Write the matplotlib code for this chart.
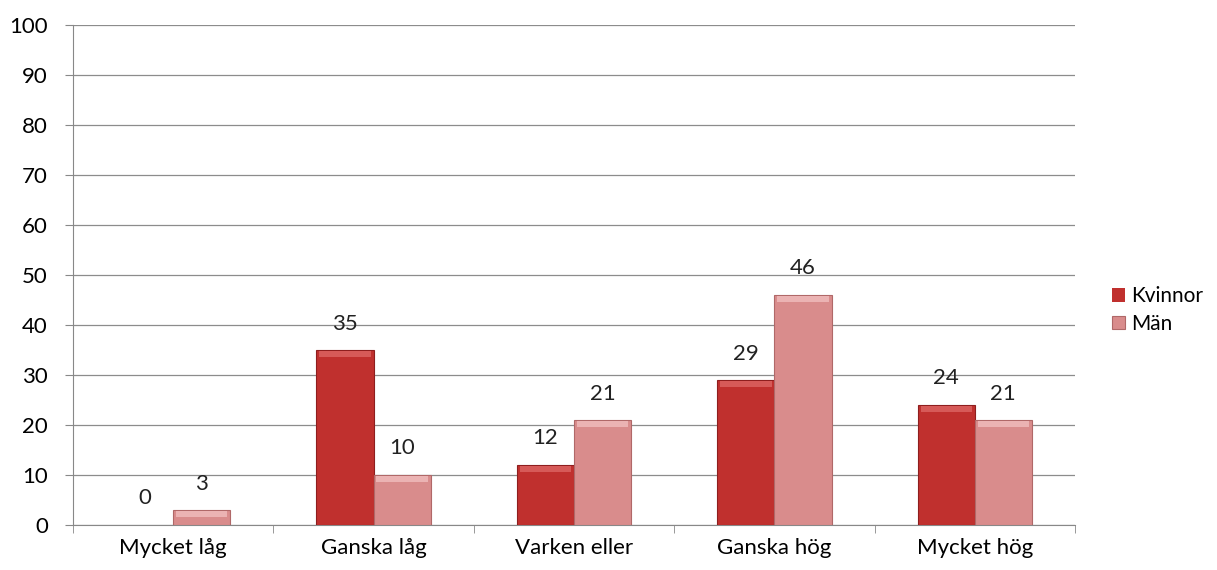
import numpy as np
import matplotlib.pyplot as plt

categories = ["Mycket låg", "Ganska låg", "Varken eller", "Ganska hög", "Mycket hög"]
kvinnor = [0, 35, 12, 29, 24]
man = [3, 10, 21, 46, 21]
series_names = ["Kvinnor", "Män"]

plt.rcParams["font.family"] = ["Lato", "DejaVu Sans"]
fs = 16

fig = plt.figure(figsize=(12.17, 5.70), dpi=100)
ax = fig.add_axes([73 / 1217, 45 / 570, 1002 / 1217, 500 / 570])

x = np.arange(len(categories))
w = 0.285
colors = ["#C0302E", "#D98C8C"]
edges = ["#8E1E1E", "#B06868"]
tops = ["#D65A58", "#EBB3B3"]

for i, (vals, name) in enumerate(zip([kvinnor, man], series_names)):
    xs = x + (i - 0.5) * w
    lw = [0.8 if v > 0 else 0 for v in vals]
    ax.bar(xs, vals, width=w, color=colors[i], edgecolor=edges[i],
           linewidth=lw, label=name, zorder=3)
    # bevel highlight along the top of each bar
    for xi, v in zip(xs, vals):
        if v > 0:
            h = min(1.2, v * 0.5)
            ax.bar(xi, h, width=w * 0.9, bottom=v - h - 0.15, color=tops[i],
                   linewidth=0, zorder=4)
    for xi, v in zip(xs, vals):
        ax.text(xi, v + 3.3, str(v), ha="center", va="bottom",
                fontsize=fs, color="#222222")

ax.set_xlim(-0.5, len(categories) - 0.5)
ax.set_ylim(0, 100)
ax.set_yticks(range(0, 101, 10))
ax.set_xticks(x)
ax.set_xticklabels(categories)
ax.set_xticks(np.arange(-0.5, len(categories)), minor=True)
ax.tick_params(axis="x", which="major", length=0, pad=9, labelsize=fs)
ax.tick_params(axis="x", which="minor", length=6, color="#888888")
ax.tick_params(axis="y", length=6, color="#888888", labelsize=fs, pad=12)
ax.grid(axis="y", color="#8C8C8C", linewidth=0.9, zorder=0)
for s in ["top", "right"]:
    ax.spines[s].set_visible(False)
for s in ["left", "bottom"]:
    ax.spines[s].set_color("#888888")

ax.legend(loc="center left", bbox_to_anchor=(1.037, 0.43), frameon=False,
          fontsize=15, handlelength=0.6, handleheight=0.6,
          handletextpad=0.3, labelspacing=0.35, borderpad=0,
          borderaxespad=0)

fig.savefig("out.png", dpi=100)
